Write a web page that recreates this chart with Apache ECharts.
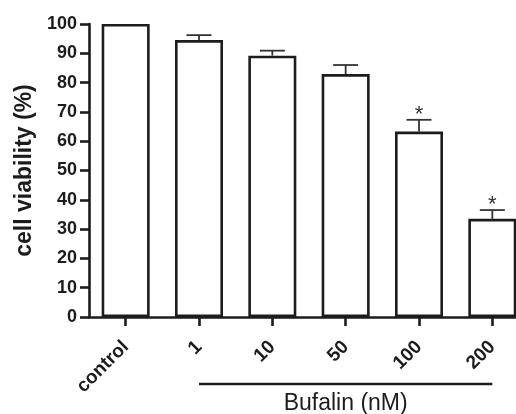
<!DOCTYPE html>
<html>
<head>
<meta charset="utf-8">
<script src="https://cdn.jsdelivr.net/npm/echarts@6/dist/echarts.min.js"></script>
<style>
html,body{margin:0;padding:0;background:#fff;overflow:hidden;}
#chart{width:516px;height:414px;}
</style>
</head>
<body>
<div id="chart"></div>
<script>
const categories = ["control", "1", "10", "50", "100", "200"];
const viability = [100, 94.5, 89.2, 82.9, 63.3, 33.5];
const errorUpper = [0, 1.7, 1.7, 3.1, 4.0, 3.0];
const significance = ["", "", "", "", "*", "*"];
const yTicks = [0, 100, 10];
const groupLabel = "Bufalin (nM)";
const groupStart = "1", groupEnd = "200";

const ink = "#1c1c1c";
const font = "Liberation Sans, Arial, sans-serif";
const chart = echarts.init(document.getElementById("chart"), null, {renderer: "canvas"});

const errData = categories.map((c, i) => [i, viability[i], errorUpper[i]]);

const option = {
  animation: false,
  backgroundColor: "#fff",
  grid: {left: 89, top: 24, bottom: 97, width: 440, containLabel: false, outerBoundsMode: "none"},
  xAxis: {
    type: "category",
    data: categories,
    axisLine: {show: true, lineStyle: {color: ink, width: 2.6}},
    axisTick: {show: true, alignWithLabel: true, length: 9, lineStyle: {color: ink, width: 2.6}},
    axisLabel: {
      rotate: 45, margin: 27, color: ink,
      fontFamily: font, fontWeight: "bold", fontSize: 19
    }
  },
  yAxis: {
    type: "value",
    min: yTicks[0], max: yTicks[1], interval: yTicks[2],
    name: "cell viability (%)",
    nameLocation: "middle",
    nameGap: 51,
    nameTextStyle: {color: ink, fontFamily: font, fontWeight: "bold", fontSize: 23},
    splitLine: {show: false},
    axisLine: {show: true, lineStyle: {color: ink, width: 2.6}},
    axisTick: {show: true, length: 9, lineStyle: {color: ink, width: 2.6}},
    axisLabel: {margin: 12, color: ink, fontFamily: font, fontWeight: "bold", fontSize: 18}
  },
  series: [
    {
      type: "bar",
      data: viability,
      barWidth: 48,
      itemStyle: {color: "#fff", borderColor: ink, borderWidth: 2.6},
      z: 2
    },
    {
      type: "custom",
      data: errData,
      z: 3,
      renderItem: function (params, api) {
        const idx = api.value(0), v = api.value(1), e = api.value(2);
        const mark = significance[idx];
        const base = api.coord([idx, v]);
        const top = api.coord([idx, v + e]);
        const half = 12.5;
        const children = [];
        if (e > 0) {
          children.push({type: "line", shape: {x1: base[0], y1: base[1], x2: top[0], y2: top[1]}, style: {stroke: "#333", lineWidth: 1.8}});
          children.push({type: "line", shape: {x1: top[0] - half, y1: top[1], x2: top[0] + half, y2: top[1]}, style: {stroke: "#333", lineWidth: 1.8}});
        }
        if (mark) {
          children.push({type: "text", style: {text: mark, x: top[0], y: top[1] - 5, align: "center", verticalAlign: "middle", fill: "#333", fontSize: 22, fontFamily: font}});
        }
        return {type: "group", children: children};
      }
    }
  ]
};
chart.setOption(option);

const p1 = chart.convertToPixel({xAxisIndex: 0}, groupStart);
const p2 = chart.convertToPixel({xAxisIndex: 0}, groupEnd);
const lineY = 384;
chart.setOption({
  graphic: [
    {type: "line", shape: {x1: p1, y1: lineY, x2: p2, y2: lineY}, style: {stroke: ink, lineWidth: 2.6}},
    {type: "text", x: (p1 + p2) / 2, y: lineY + 20, style: {text: groupLabel, align: "center", verticalAlign: "middle", fill: ink, fontSize: 23, fontFamily: font}}
  ]
});
</script>
</body>
</html>
